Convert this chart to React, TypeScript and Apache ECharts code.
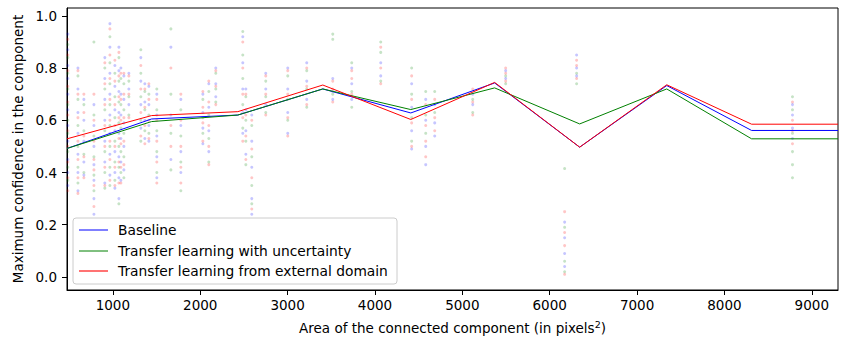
import React, { useEffect, useRef } from "react";
import * as echarts from "echarts";

// Line data (binned means)
const lineX = [475, 1443, 2430, 3403, 4410, 5370, 6343, 7340, 8311, 9300];
const baselineY = [0.492, 0.605, 0.62, 0.72, 0.628, 0.743, 0.497, 0.733, 0.561, 0.561];
const uncertaintyY = [0.492, 0.595, 0.62, 0.72, 0.641, 0.724, 0.586, 0.72, 0.529, 0.529];
const externalY = [0.529, 0.618, 0.633, 0.735, 0.603, 0.745, 0.497, 0.736, 0.585, 0.585];

// Scatter columns (component areas) and per-model confidences
const scatterX = [485, 600, 668, 783, 908, 966, 1023, 1069, 1092, 1126, 1183, 1320, 1366, 1412, 1503, 1664, 1778, 2030, 2098, 2178, 2487, 2522, 2590, 2750, 3002, 3219, 3517, 3734, 4066, 4420, 4581, 4684, 5119, 5496, 6171, 6308, 8779];
const scatterBaseline = [
  [0.93, 0.87, 0.81, 0.76, 0.7, 0.64, 0.58, 0.52, 0.45, 0.4, 0.35],
  [0.8, 0.72, 0.63, 0.55, 0.47, 0.4, 0.33],
  [0.68, 0.6, 0.52, 0.44, 0.39],
  [0.66, 0.58, 0.5, 0.43, 0.37, 0.3, 0.24],
  [0.84, 0.76, 0.68, 0.6, 0.52, 0.44, 0.36],
  [0.97, 0.88, 0.78, 0.7, 0.62, 0.55, 0.47, 0.39],
  [0.81, 0.73, 0.64, 0.56, 0.48, 0.4, 0.34],
  [0.88, 0.79, 0.71, 0.63, 0.55, 0.46, 0.38, 0.3],
  [0.8, 0.7, 0.62, 0.53, 0.44, 0.37],
  [0.77, 0.68, 0.59, 0.5, 0.41],
  [0.78, 0.72, 0.66],
  [0.84, 0.75, 0.66, 0.57],
  [0.74, 0.67, 0.6, 0.53],
  [0.73, 0.66, 0.58, 0.52],
  [0.7, 0.62, 0.54, 0.46, 0.38],
  [0.88, 0.62, 0.45],
  [0.68, 0.58, 0.48, 0.4],
  [0.7, 0.63, 0.57, 0.51],
  [0.74, 0.65, 0.56, 0.48],
  [0.8, 0.74, 0.69],
  [0.92, 0.82, 0.72, 0.63, 0.55],
  [0.72, 0.64, 0.56, 0.47],
  [0.62, 0.52, 0.42, 0.3, 0.24],
  [0.78, 0.72, 0.66],
  [0.8, 0.72, 0.63, 0.55],
  [0.82, 0.75, 0.68],
  [0.76, 0.71, 0.68],
  [0.8, 0.74, 0.68],
  [0.82, 0.77],
  [0.74, 0.65, 0.56, 0.49],
  [0.68, 0.6, 0.5, 0.43],
  [0.66, 0.59, 0.54],
  [0.7, 0.66],
  [0.79, 0.76],
  [0.21, 0.15, 0.09, 0.04],
  [0.85, 0.8, 0.77],
  [0.66, 0.62, 0.57, 0.53],
];
const scatterUncertainty = [
  [0.89, 0.84, 0.78, 0.72, 0.66, 0.6, 0.55, 0.48, 0.42, 0.37],
  [0.77, 0.68, 0.58, 0.5, 0.42, 0.36],
  [0.66, 0.56, 0.47, 0.4],
  [0.9, 0.62, 0.54, 0.46, 0.39, 0.33],
  [0.8, 0.72, 0.64, 0.56, 0.48, 0.4, 0.34],
  [0.92, 0.82, 0.74, 0.66, 0.58, 0.5, 0.42, 0.35],
  [0.78, 0.69, 0.61, 0.52, 0.44, 0.37],
  [0.84, 0.75, 0.67, 0.59, 0.5, 0.42, 0.28],
  [0.76, 0.66, 0.57, 0.48, 0.4],
  [0.74, 0.64, 0.55, 0.46, 0.38],
  [0.75, 0.69, 0.62],
  [0.87, 0.78, 0.69, 0.6, 0.52],
  [0.71, 0.64, 0.56],
  [0.7, 0.62, 0.55],
  [0.72, 0.64, 0.56, 0.48, 0.4],
  [0.95, 0.7, 0.55, 0.41],
  [0.64, 0.54, 0.44, 0.33],
  [0.68, 0.61, 0.55],
  [0.71, 0.62, 0.53, 0.44],
  [0.78, 0.72, 0.67],
  [0.94, 0.85, 0.76, 0.66, 0.57],
  [0.69, 0.6, 0.52, 0.43],
  [0.58, 0.46, 0.35, 0.28],
  [0.75, 0.69, 0.63],
  [0.77, 0.68, 0.6],
  [0.79, 0.72, 0.65],
  [0.93, 0.91, 0.7],
  [0.82, 0.71, 0.65],
  [0.9, 0.86, 0.75],
  [0.8, 0.7, 0.61, 0.52],
  [0.71, 0.62, 0.55],
  [0.71, 0.63],
  [0.68, 0.63],
  [0.77, 0.74],
  [0.415, 0.19, 0.06, 0.02],
  [0.78, 0.74],
  [0.69, 0.64, 0.55, 0.48, 0.43, 0.38],
];
const scatterExternal = [
  [0.91, 0.85, 0.79, 0.73, 0.67, 0.62, 0.56, 0.5, 0.44, 0.38, 0.33],
  [0.79, 0.7, 0.61, 0.52, 0.45, 0.38, 0.32],
  [0.7, 0.63, 0.54, 0.46, 0.38],
  [0.7, 0.6, 0.52, 0.45, 0.41, 0.35, 0.27],
  [0.82, 0.74, 0.66, 0.58, 0.5, 0.42, 0.35],
  [0.95, 0.85, 0.76, 0.68, 0.6, 0.52, 0.45, 0.37],
  [0.83, 0.75, 0.66, 0.58, 0.5, 0.42, 0.35],
  [0.86, 0.77, 0.69, 0.61, 0.53, 0.44, 0.36],
  [0.78, 0.68, 0.6, 0.51, 0.42, 0.36],
  [0.78, 0.7, 0.61, 0.52, 0.43],
  [0.77, 0.7, 0.61],
  [0.81, 0.72, 0.63, 0.54],
  [0.72, 0.65, 0.58, 0.51],
  [0.74, 0.68, 0.6, 0.53],
  [0.68, 0.6, 0.52, 0.44, 0.36],
  [0.8, 0.58, 0.5],
  [0.7, 0.6, 0.5, 0.42, 0.36],
  [0.71, 0.65, 0.59, 0.52],
  [0.75, 0.67, 0.58, 0.5, 0.43],
  [0.79, 0.73, 0.66],
  [0.9, 0.8, 0.7, 0.61, 0.52],
  [0.7, 0.62, 0.54, 0.45],
  [0.6, 0.49, 0.38, 0.26],
  [0.77, 0.7, 0.62],
  [0.79, 0.7, 0.61, 0.54],
  [0.8, 0.73, 0.66],
  [0.75, 0.72, 0.67],
  [0.79, 0.76, 0.7],
  [0.88, 0.8, 0.74],
  [0.77, 0.68, 0.59, 0.5],
  [0.66, 0.58, 0.52, 0.46],
  [0.68, 0.61, 0.56],
  [0.72, 0.67, 0.62],
  [0.8, 0.78, 0.75],
  [0.25, 0.17, 0.12, 0.01],
  [0.83, 0.81, 0.76],
  [0.67, 0.6, 0.56, 0.51],
];

const xTicks = [1000, 2000, 3000, 4000, 5000, 6000, 7000, 8000, 9000];
const yTicks = [0, 0.2, 0.4, 0.6, 0.8, 1.0];
const legendNames = ["Baseline", "Transfer learning with uncertainty", "Transfer learning from external domain"];

const FONT = "DejaVu Sans";
const FS = 13.5;

function toPoints(cols: number[][]) {
  const out: number[][] = [];
  cols.forEach((ys, i) => ys.forEach((y) => out.push([scatterX[i], y])));
  return out;
}
function toLine(ys: number[]) {
  return lineX.map((x, i) => [x, ys[i]]);
}

export default function App() {
  const ref = useRef<HTMLDivElement>(null);
  useEffect(() => {
    if (!ref.current) return;
    const chart = echarts.init(ref.current, null, { renderer: "svg" });
    const L = 73, T = 218, W = 324, H = 66;
    const rowY = [230, 251, 271];
    const legendColors = ["#0000ff", "#008000", "rgba(255,0,0,0.55)"];
    const legendWidths = [1, 1, 2];
    const graphic: any[] = [
      {
        type: "rect",
        shape: { x: L, y: T, width: W, height: H, r: 3 },
        style: { fill: "rgba(255,255,255,0.8)", stroke: "#cccccc", lineWidth: 1 },
        z: 100,
      },
    ];
    legendNames.forEach((n, i) => {
      graphic.push({
        type: "line",
        shape: { x1: 79, y1: rowY[i], x2: 108, y2: rowY[i] },
        style: { stroke: legendColors[i], lineWidth: legendWidths[i] },
        z: 101,
      });
      graphic.push({
        type: "text",
        x: 118,
        y: rowY[i],
        style: { text: n, fill: "#000", font: `13.8px "${FONT}"`, textVerticalAlign: "middle" },
        z: 101,
      });
    });

    const scatterStyle = (c: string) => ({
      type: "scatter",
      symbol: "circle",
      symbolSize: 3,
      itemStyle: { color: c },
      silent: true,
      z: 1,
    });

    chart.setOption({
      animation: false,
      grid: { left: 67, right: 21, top: 8, bottom: 51, show: true, borderColor: "#000", borderWidth: 1 },
      xAxis: {
        type: "value",
        min: 475,
        max: 9300,
        name: "Area of the connected component (in pixels{sup|2})",
        nameLocation: "middle",
        nameGap: 29,
        nameTextStyle: {
          fontFamily: FONT,
          fontSize: FS,
          color: "#000",
          rich: { sup: { fontFamily: FONT, fontSize: 9.5, color: "#000", padding: [0, 0, 7, 0] } },
        },
        axisLine: { show: true, onZero: false, lineStyle: { color: "#000" } },
        axisTick: { show: true, inside: false, length: 5, lineStyle: { color: "#000" }, customValues: xTicks },
        axisLabel: {
          fontFamily: FONT,
          fontSize: FS,
          color: "#000",
          margin: 8,
          customValues: xTicks,
          formatter: (v: number) => String(Math.round(v)),
        },
        splitLine: { show: false },
      },
      yAxis: {
        type: "value",
        min: -0.05,
        max: 1.03,
        name: "Maximum confidence in the component",
        nameLocation: "middle",
        nameGap: 41,
        nameTextStyle: { fontFamily: FONT, fontSize: FS, color: "#000" },
        axisLine: { show: true, onZero: false, lineStyle: { color: "#000" } },
        axisTick: { show: true, inside: false, length: 5, lineStyle: { color: "#000" }, customValues: yTicks },
        axisLabel: {
          fontFamily: FONT,
          fontSize: FS,
          color: "#000",
          margin: 10,
          customValues: yTicks,
          formatter: (v: number) => v.toFixed(1),
        },
        splitLine: { show: false },
      },
      series: [
        { ...scatterStyle("rgba(0,0,255,0.28)"), data: toPoints(scatterBaseline) },
        { ...scatterStyle("rgba(0,128,0,0.28)"), data: toPoints(scatterUncertainty) },
        { ...scatterStyle("rgba(255,0,0,0.28)"), data: toPoints(scatterExternal) },
        { type: "line", name: legendNames[0], data: toLine(baselineY), symbol: "none", lineStyle: { color: "#0000ff", width: 1 }, z: 3 },
        { type: "line", name: legendNames[1], data: toLine(uncertaintyY), symbol: "none", lineStyle: { color: "#008000", width: 1 }, z: 4 },
        { type: "line", name: legendNames[2], data: toLine(externalY), symbol: "none", lineStyle: { color: "#ff0000", width: 1 }, z: 5 },
      ],
      graphic,
    });
    return () => chart.dispose();
  }, []);
  return <div ref={ref} style={{ width: 859, height: 341, position: "absolute", left: 0, top: 0 }} />;
}
